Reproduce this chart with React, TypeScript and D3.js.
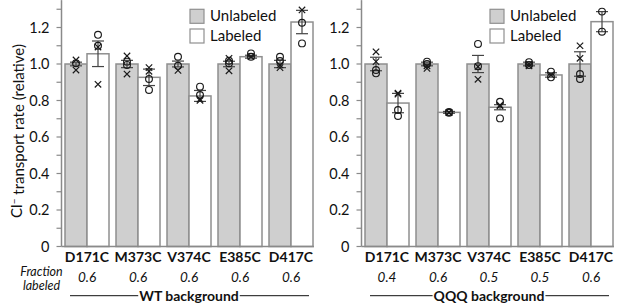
import React, { useLayoutEffect, useRef, useState } from "react";
import * as d3 from "d3";

const categories = ["D171C", "M373C", "V374C", "E385C", "D417C"];
const yTicks = [0, 0.2, 0.4, 0.6, 0.8, 1.0, 1.2];
const yTickLabels = ["0", "0.2", "0.4", "0.6", "0.8", "1.0", "1.2"];
const yMinorTicks = [0.1, 0.3, 0.5, 0.7, 0.9, 1.1, 1.3];
const seriesNames = ["Unlabeled", "Labeled"];

// WT background
const wtUnlabeledMean = [1, 1, 1, 1, 1];
const wtUnlabeledErr = [0.01, 0.02, 0.016, 0.015, 0.02];
const wtLabeledMean = [1.056, 0.927, 0.825, 1.04, 1.23];
const wtLabeledErr = [0.07, 0.045, 0.03, 0.008, 0.064];
const wtUnlabeledCircles = [[1.004], [1.013, 0.995], [1.04, 0.99], [1.018, 1.004], [1.04, 1.016]];
const wtUnlabeledCrosses = [[1.022, 0.967], [1.044, 0.945], [0.965], [1.031, 0.963], [0.995, 0.98]];
const wtLabeledCircles = [[1.16, 1.1], [0.918, 0.858], [0.876, 0.83], [1.058, 1.04], [1.226, 1.113]];
const wtLabeledCrosses = [[1.093, 0.889], [0.98, 0.96], [0.807, 0.8], [1.04], [1.296]];
const wtFractions = ["0.6", "0.6", "0.6", "0.6", "0.6"];

// QQQ background
const qqqUnlabeledMean = [1, 1, 1, 1, 1];
const qqqUnlabeledErr = [0.037, 0.01, 0.047, 0.01, 0.067];
const qqqLabeledMean = [0.786, 0.735, 0.763, 0.94, 1.232];
const qqqLabeledErr = [0.053, 0.005, 0.014, 0.012, 0.055];
const qqqUnlabeledCircles = [[0.967, 0.949], [1.013, 1.0], [1.11, 0.988], [1.01, 0.995], [0.945, 0.918]];
const qqqUnlabeledCrosses = [[1.067, 1.013], [0.99, 0.976], [0.985, 0.916], [1.0, 0.99], [1.1, 1.031]];
const qqqLabeledCircles = [[0.748, 0.715], [0.737, 0.733], [0.793, 0.702], [0.958, 0.927], [1.287, 1.177]];
const qqqLabeledCrosses = [[0.84, 0.835], [0.735, 0.733], [0.775, 0.77], [0.94], []];
const qqqFractions = ["0.4", "0.6", "0.5", "0.5", "0.6"];

const panelTitles = ["WT background", "QQQ background"];

const W = 617;
const H = 305;
const FONT = "Lato, 'Open Sans', sans-serif";
const AXIS = "#8a8a8a";
const BAR_STROKE = "#8f8f8f";
const GRAY = "#cfcfcf";
const MARK = "#1a1a1a";

type Series = { mean: number[]; err: number[]; circles: number[][]; crosses: number[][] };
type Panel = { x0: number; x1: number; title: string; fractions: string[]; series: Series[] };

const panels: Panel[] = [
  {
    x0: 61.5,
    x1: 316.5,
    title: panelTitles[0],
    fractions: wtFractions,
    series: [
      { mean: wtUnlabeledMean, err: wtUnlabeledErr, circles: wtUnlabeledCircles, crosses: wtUnlabeledCrosses },
      { mean: wtLabeledMean, err: wtLabeledErr, circles: wtLabeledCircles, crosses: wtLabeledCrosses },
    ],
  },
  {
    x0: 361.5,
    x1: 616.5,
    title: panelTitles[1],
    fractions: qqqFractions,
    series: [
      { mean: qqqUnlabeledMean, err: qqqUnlabeledErr, circles: qqqUnlabeledCircles, crosses: qqqUnlabeledCrosses },
      { mean: qqqLabeledMean, err: qqqLabeledErr, circles: qqqLabeledCircles, crosses: qqqLabeledCrosses },
    ],
  },
];

const y = d3.scaleLinear().domain([0, 1.35]).range([246.5, 0.125]);

function PanelView({ p, showFractionLabel }: { p: Panel; showFractionLabel: boolean }) {
  const x = d3
    .scaleBand<string>()
    .domain(categories)
    .range([p.x0, p.x1])
    .paddingInner(7 / 51)
    .paddingOuter(3.5 / 51);
  const sub = d3.scaleBand<string>().domain(seriesNames).range([0, x.bandwidth()]);
  const titleRef = useRef<SVGTextElement>(null);
  const [tw, setTw] = useState(100);
  useLayoutEffect(() => {
    if (titleRef.current) setTw(titleRef.current.getComputedTextLength());
  }, []);
  const first = x(categories[0])!;
  const last = x(categories[categories.length - 1])! + x.bandwidth();
  const cx = (first + last) / 2;
  const lineY = 295.7;
  const legX = p.x0 + 128.5;
  return (
    <g>
      {/* bars */}
      {p.series.map((s, si) =>
        categories.map((c, i) => (
          <rect
            key={`b${si}${i}`}
            x={x(c)! + sub(seriesNames[si])!}
            y={y(s.mean[i])}
            width={sub.bandwidth()}
            height={y(0) - y(s.mean[i])}
            fill={si === 0 ? GRAY : "#fff"}
            stroke={BAR_STROKE}
            strokeWidth={1.5}
          />
        ))
      )}
      {/* axes */}
      <line x1={p.x0} x2={p.x0} y1={y(0)} y2={y(1.35)} stroke={AXIS} strokeWidth={1.5} />
      <line x1={p.x0} x2={last + 1} y1={y(0)} y2={y(0)} stroke={AXIS} strokeWidth={1.5} />
      {yTicks.map((t, i) => (
        <g key={`t${i}`}>
          <line x1={p.x0 - 5} x2={p.x0} y1={y(t)} y2={y(t)} stroke={AXIS} strokeWidth={1.2} />
          <text
            x={p.x0 - 12}
            y={y(t)}
            dy="0.36em"
            textAnchor="end"
            fontFamily={FONT}
            fontSize={14.5}
            fill="#111"
          >
            {yTickLabels[i]}
          </text>
        </g>
      ))}
      {yMinorTicks.map((t, i) => (
        <line key={`m${i}`} x1={p.x0 - 5} x2={p.x0} y1={y(t)} y2={y(t)} stroke={AXIS} strokeWidth={1.2} />
      ))}
      {/* error bars */}
      {p.series.map((s, si) =>
        categories.map((c, i) => {
          const bx = x(c)! + sub(seriesNames[si])! + sub.bandwidth() / 2;
          const top = y(s.mean[i] + s.err[i]);
          const bot = y(s.mean[i] - s.err[i]);
          return (
            <g key={`e${si}${i}`} stroke="#444" strokeWidth={1.2}>
              <line x1={bx} x2={bx} y1={top} y2={bot} />
              <line x1={bx - 6} x2={bx + 6} y1={top} y2={top} />
              <line x1={bx - 6} x2={bx + 6} y1={bot} y2={bot} />
            </g>
          );
        })
      )}
      {/* markers */}
      {p.series.map((s, si) =>
        categories.map((c, i) => {
          const bx = x(c)! + sub(seriesNames[si])! + sub.bandwidth() / 2;
          return (
            <g key={`p${si}${i}`}>
              {s.circles[i].map((v, k) => (
                <circle key={`c${k}`} cx={bx} cy={y(v)} r={3.4} fill="none" stroke={MARK} strokeWidth={1.15} />
              ))}
              {s.crosses[i].map((v, k) => (
                <path
                  key={`x${k}`}
                  d={`M${bx - 3.2},${y(v) - 3.2}L${bx + 3.2},${y(v) + 3.2}M${bx - 3.2},${y(v) + 3.2}L${bx + 3.2},${y(v) - 3.2}`}
                  stroke={MARK}
                  strokeWidth={1.2}
                  fill="none"
                />
              ))}
            </g>
          );
        })
      )}
      {/* legend */}
      {seriesNames.map((n, i) => (
        <g key={`l${i}`}>
          <rect
            x={legX}
            y={9.3 + i * 19.7}
            width={14}
            height={14}
            fill={i === 0 ? GRAY : "#fff"}
            stroke={BAR_STROKE}
            strokeWidth={1.2}
          />
          <text x={legX + 20} y={21 + i * 19.7} fontFamily={FONT} fontSize={15} fill="#111">
            {n}
          </text>
        </g>
      ))}
      {/* category labels */}
      {categories.map((c, i) => (
        <g key={`cl${i}`}>
          <text
            x={x(c)! + x.bandwidth() / 2}
            y={261.5}
            textAnchor="middle"
            fontFamily={FONT}
            fontWeight="bold"
            fontSize={14}
            fill="#111"
          >
            {c}
          </text>
          <text
            x={x(c)! + x.bandwidth() / 2}
            y={282}
            textAnchor="middle"
            fontFamily={FONT}
            fontStyle="italic"
            fontSize={13.5}
            fill="#111"
          >
            {p.fractions[i]}
          </text>
        </g>
      ))}
      {showFractionLabel && (
        <g fontFamily={FONT} fontStyle="italic" fontSize={12.5} fill="#111" textAnchor="middle">
          <text x={41.5} y={275.5}>Fraction</text>
          <text x={41.5} y={290}>labeled</text>
        </g>
      )}
      {/* background label */}
      <line x1={first + 5} x2={cx - tw / 2 - 1} y1={lineY} y2={lineY} stroke="#111" strokeWidth={1} />
      <line x1={cx + tw / 2 + 1} x2={last - 4} y1={lineY} y2={lineY} stroke="#111" strokeWidth={1} />
      <text
        ref={titleRef}
        x={cx}
        y={300.5}
        textAnchor="middle"
        fontFamily={FONT}
        fontWeight="bold"
        fontSize={14}
        fill="#111"
      >
        {p.title}
      </text>
    </g>
  );
}

export default function App() {
  return (
    <svg
      width={W}
      height={H}
      viewBox={`0 0 ${W} ${H}`}
      style={{ position: "absolute", left: 0, top: 0, background: "#fff" }}
    >
      <rect x={0} y={0} width={W} height={H} fill="#fff" />
      {panels.map((p, i) => (
        <PanelView key={i} p={p} showFractionLabel={i === 0} />
      ))}
      <text
        transform="translate(22,131) rotate(-90)"
        textAnchor="middle"
        fontFamily={FONT}
        fontSize={15}
        fill="#111"
      >
        Cl
        <tspan dy="-0.45em" fontSize={10}>−</tspan>
        <tspan dy="0.45em"> transport rate (relative)</tspan>
      </text>
    </svg>
  );
}
